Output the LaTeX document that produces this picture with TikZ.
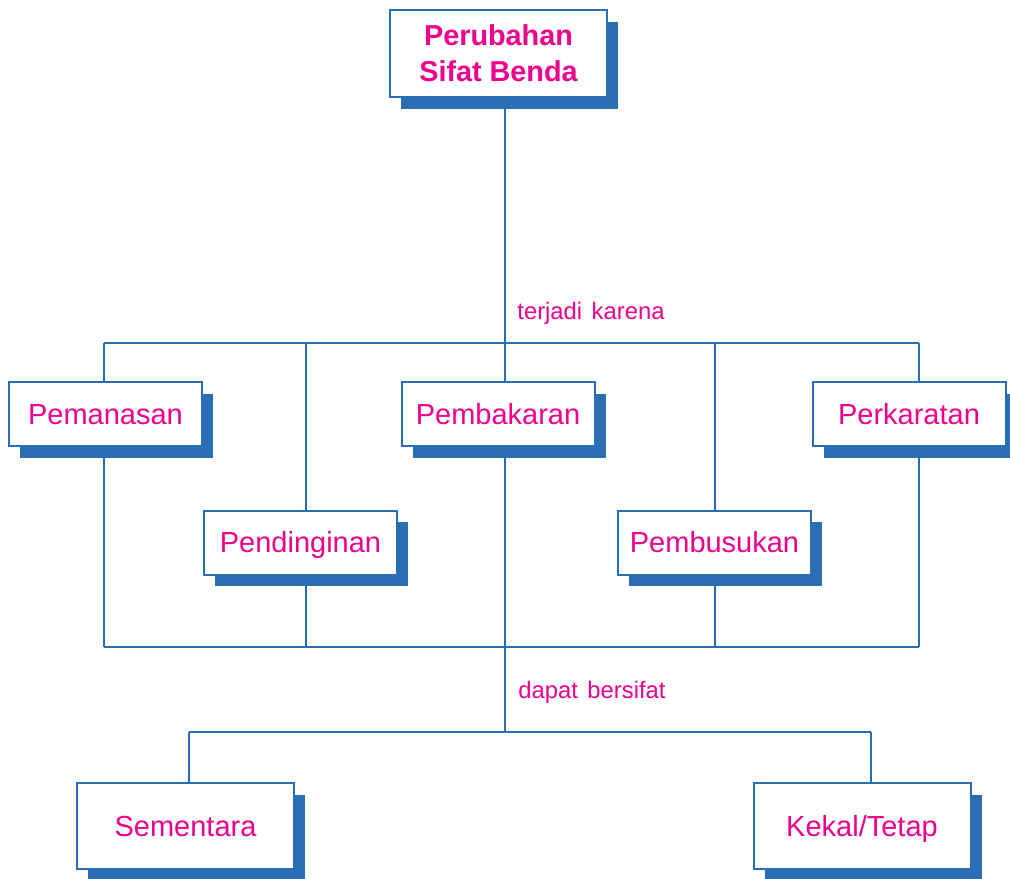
\documentclass[tikz,border=0pt]{standalone}
\usepackage{fontspec}
\setmainfont{Liberation Sans}
\usetikzlibrary{shadows}
\definecolor{garisbiru}{HTML}{2A6FB6}
\definecolor{teksmerah}{HTML}{EC008C}

\begin{document}
\begin{tikzpicture}[x=0.5pt,y=-0.5pt,
  dasar/.style={rectangle,draw=garisbiru,line width=1pt,fill=white,
                inner sep=0pt,text=teksmerah,
                drop shadow={shadow xshift=5.5pt,shadow yshift=-5.8pt,
                             opacity=1,fill=garisbiru}},
  kotak/.style={dasar,minimum width=96.5pt,minimum height=32pt,
                font=\fontsize{14.5}{17}\selectfont,
                text height=13.3pt,text depth=2.9pt},
  kotakbesar/.style={kotak,minimum width=108.5pt,minimum height=43pt},
  judul/.style={dasar,minimum width=108.5pt,minimum height=43.5pt,
                align=center,font=\fontsize{14.4}{18}\selectfont\bfseries},
  garis/.style={draw=garisbiru,line width=1pt},
  ket/.style={font=\fontsize{11.9}{14}\selectfont,text=teksmerah,
              anchor=base west,inner sep=0pt},
]
\useasboundingbox (0,0) rectangle (1010,878);

% Title
\node[judul] (ubah) at (498.5,53.5) {Perubahan\\Sifat Benda};

% Causes
\node[kotak] (panas)  at (105.5,414)   {Pemanasan};
\node[kotak] (bakar)  at (498,414)     {Pembakaran};
\node[kotak] (karat)  at (909,414)     {Perkaratan};
\node[kotak] (dingin) at (300.5,542.5) {Pendinginan};
\node[kotak] (busuk)  at (714.5,542.5) {Pembusukan};

% Results
\node[kotakbesar] (sementara) at (185.5,826) {Sementara};
\node[kotakbesar] (kekal)     at (862,826)   {Kekal/Tetap};

% Labels on the trunk
\node[ket] (karena) at (517,319) {terjadi\hspace{0.4em}karena};
\node[ket] (sifat)  at (518,698) {dapat\hspace{0.4em}bersifat};

% Bus lines
\coordinate (atas)   at (505,343);
\coordinate (bawah)  at (505,647);
\coordinate (cabang) at (505,732);
\coordinate (atasL)  at (104,343);
\coordinate (atasR)  at (919,343);
\coordinate (bawahL) at (104,647);
\coordinate (bawahR) at (919,647);
\coordinate (cabL)   at (189,732);
\coordinate (cabR)   at (871,732);

\draw[garis] (atas |- ubah.south) -- (atas);
\draw[garis] (atasL) -- (atasR);
\draw[garis] (bawahL) -- (bawahR);
\draw[garis] (bawah) -- (cabang);
\draw[garis] (cabL) -- (cabR);

% Branches to each box
\foreach \n/\x in {panas/104,dingin/306,bakar/505,busuk/715,karat/919}{
  \draw[garis] (\x,343) -- (\x,0 |- \n.north);
  \draw[garis] (\x,0 |- \n.south) -- (\x,647);
}
\draw[garis] (cabL) -- (cabL |- sementara.north);
\draw[garis] (cabR) -- (cabR |- kekal.north);

\end{tikzpicture}
\end{document}
